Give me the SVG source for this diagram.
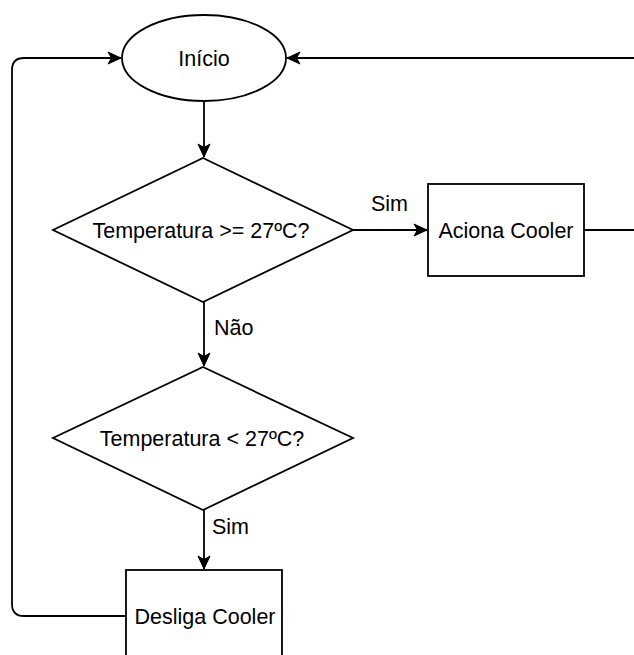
<svg xmlns="http://www.w3.org/2000/svg" width="634" height="655" viewBox="0 0 634 655">
  <style>
    .shape { fill: #ffffff; stroke: #000000; stroke-width: 1.8; }
    .edge { fill: none; stroke: #000000; stroke-width: 1.8; }
    .label { font-family: "Liberation Sans", Arial, sans-serif; font-size: 21.5px; fill: #000000; text-anchor: middle; }
    .elabel { font-family: "Liberation Sans", Arial, sans-serif; font-size: 21.5px; fill: #000000; text-anchor: start; }
  </style>
  <defs>
    <marker id="arrow" markerUnits="userSpaceOnUse" markerWidth="16" markerHeight="16" viewBox="-14 -8 16 16" refX="0" refY="0" orient="auto">
      <path d="M0,0 L-13,-6 L-9.5,0 L-13,6 Z" fill="#000000" stroke="#000000" stroke-width="1"/>
    </marker>
  </defs>
  <rect width="634" height="655" fill="#ffffff"/>

  <g id="connectors">
    <path class="edge" d="M204,101 L204,157" marker-end="url(#arrow)"/>
    <path class="edge" d="M353,230 L427,230" marker-end="url(#arrow)"/>
    <path class="edge" d="M585,230 L650,230 L650,58 L287,58" marker-end="url(#arrow)"/>
    <path class="edge" d="M204,302 L204,366" marker-end="url(#arrow)"/>
    <path class="edge" d="M204,510 L204,569" marker-end="url(#arrow)"/>
    <path class="edge" d="M126,616 L24,616 Q12,616 12,604 L12,70 Q12,58 24,58 L121,58" marker-end="url(#arrow)"/>
    <text class="elabel" x="371" y="211">Sim</text>
    <text class="elabel" x="214" y="335">Não</text>
    <text class="elabel" x="212" y="534">Sim</text>
  </g>

  <g id="inicio">
    <ellipse class="shape" cx="204" cy="58" rx="82" ry="43"/>
    <text class="label" x="204" y="65.5">Início</text>
  </g>

  <g id="decisao1">
    <polygon class="shape" points="203,158 353,230 203,302 53,230"/>
    <text class="label" x="201" y="237.5">Temperatura &gt;= 27ºC?</text>
  </g>

  <g id="aciona">
    <rect class="shape" x="428" y="184" width="156" height="92"/>
    <text class="label" x="506" y="237.5">Aciona Cooler</text>
  </g>

  <g id="decisao2">
    <polygon class="shape" points="203,367 353,438 203,510 53,438"/>
    <text class="label" x="202" y="445.5">Temperatura &lt; 27ºC?</text>
  </g>

  <g id="desliga">
    <rect class="shape" x="126" y="570" width="156" height="92"/>
    <text class="label" x="205" y="623.5">Desliga Cooler</text>
  </g>
</svg>
